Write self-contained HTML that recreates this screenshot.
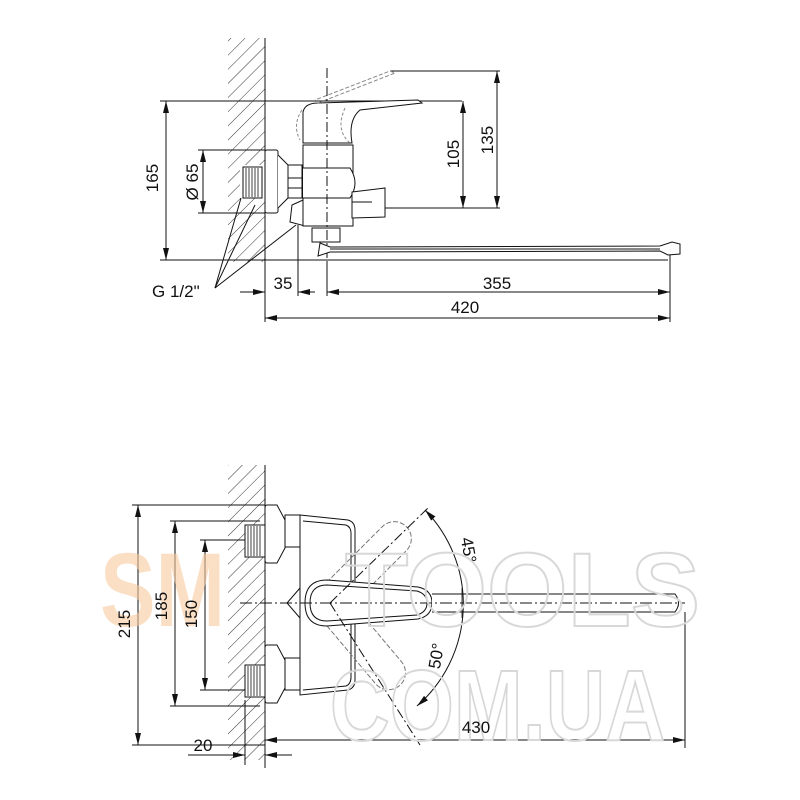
<!DOCTYPE html>
<html><head><meta charset="utf-8"><style>body{margin:0;background:#fff}svg{display:block}</style></head>
<body>
<svg width="800" height="800" viewBox="0 0 800 800" xmlns="http://www.w3.org/2000/svg" font-family="Liberation Sans, sans-serif">
<defs>
<pattern id="h" patternUnits="userSpaceOnUse" width="10" height="10" patternTransform="rotate(45)">
<line x1="0" y1="0" x2="0" y2="10" stroke="#333" stroke-width="1"/>
</pattern>
<marker id="a" markerWidth="12" markerHeight="6" refX="12" refY="3" orient="auto-start-reverse" markerUnits="userSpaceOnUse">
<path d="M0,0 L12,3 L0,6 z" fill="#111"/></marker>
</defs>
<g stroke="#111" fill="none" stroke-width="1">
<!-- TOP -->
<rect x="228" y="38" width="37" height="224" fill="url(#h)" stroke="none"/>
<rect x="240" y="165" width="25" height="33" fill="#fff" stroke="none"/>
<line x1="265" y1="38" x2="265" y2="322"/>
<line x1="160" y1="101" x2="462" y2="101"/>
<line x1="160" y1="260" x2="668" y2="260"/>
<line x1="198" y1="150" x2="265" y2="150"/>
<line x1="198" y1="213" x2="265" y2="213"/>
<line x1="390" y1="71" x2="500" y2="71"/>
<line x1="330" y1="208" x2="500" y2="208"/>
<line x1="166" y1="101" x2="166" y2="260" marker-start="url(#a)" marker-end="url(#a)"/>
<line x1="203" y1="150" x2="203" y2="213" marker-start="url(#a)" marker-end="url(#a)"/>
<line x1="463" y1="101" x2="463" y2="208" marker-start="url(#a)" marker-end="url(#a)"/>
<line x1="497" y1="71" x2="497" y2="208" marker-start="url(#a)" marker-end="url(#a)"/>
<line x1="215" y1="288" x2="241" y2="198"/>
<line x1="215" y1="288" x2="255" y2="205"/>
<line x1="215" y1="288" x2="296" y2="225"/>
<rect x="243" y="167" width="19" height="31" fill="#fff"/>
<g stroke-width="0.8"><line x1="246" y1="168" x2="246" y2="197"/><line x1="249" y1="168" x2="249" y2="197"/><line x1="252" y1="168" x2="252" y2="197"/><line x1="255" y1="168" x2="255" y2="197"/><line x1="258" y1="168" x2="258" y2="197"/></g>
<rect x="265" y="150" width="13" height="63" rx="2" fill="#fff"/>
<path d="M278 155 L288 165 L288 198 L278 208" fill="#fff"/>
<rect x="288" y="165" width="14" height="33" fill="#fff"/>
<line x1="288" y1="178" x2="302" y2="178"/><line x1="288" y1="188" x2="302" y2="188"/>
<path d="M292 205 L303 200 L305 226 L290 222 z" fill="#fff"/>
<rect x="303" y="145" width="50" height="81" fill="#fff"/>
<path d="M303 168 L350 168 Q360 183 350 198 L303 198" fill="#fff"/>
<path d="M352 192 L385 188 L385 217 L352 218 z" fill="#fff"/>
<line x1="352" y1="202" x2="372" y2="202"/>
<rect x="312" y="228" width="28" height="14" fill="#fff"/>
<path d="M303 143 L303 112 Q305 103 318 103 L418 100 L422 103 L360 110 Q348 120 352 143 z" fill="#fff"/>
<path d="M302 110 Q292 125 300 140 M345 108 Q335 130 350 143" stroke="#888" stroke-dasharray="3,2"/>
<path d="M318 103 L395 73 L390 71 L315 100" stroke="#888" stroke-dasharray="4,2"/>
<line x1="327" y1="68" x2="327" y2="262" stroke-dasharray="10,3,2,3"/>
<path d="M320 243 L330 247 L660 246 L672 242 L680 244 L680 254 L668 255 L660 251 L330 252 L318 256 z" fill="#fff"/>
<line x1="330" y1="249" x2="660" y2="249"/>
<line x1="670" y1="255" x2="670" y2="322"/>
<line x1="298" y1="225" x2="298" y2="296"/>
<line x1="327" y1="262" x2="327" y2="296"/>
<line x1="240" y1="292" x2="265" y2="292" marker-end="url(#a)"/>
<line x1="298" y1="292" x2="315" y2="292" marker-start="url(#a)"/>
<line x1="327" y1="292" x2="670" y2="292" marker-start="url(#a)" marker-end="url(#a)"/>
<line x1="265" y1="318" x2="670" y2="318" marker-start="url(#a)" marker-end="url(#a)"/>

<!-- BOTTOM -->
<rect x="228" y="465" width="37" height="295" fill="url(#h)" stroke="none"/>
<line x1="265" y1="465" x2="265" y2="768"/>
<line x1="132" y1="505" x2="265" y2="505"/>
<line x1="132" y1="745" x2="265" y2="745"/>
<line x1="170" y1="521" x2="260" y2="521"/>
<line x1="170" y1="706" x2="260" y2="706"/>
<line x1="200" y1="540" x2="245" y2="540"/>
<line x1="200" y1="690" x2="245" y2="690"/>
<line x1="138" y1="505" x2="138" y2="745" marker-start="url(#a)" marker-end="url(#a)"/>
<line x1="175" y1="521" x2="175" y2="706" marker-start="url(#a)" marker-end="url(#a)"/>
<line x1="205" y1="540" x2="205" y2="690" marker-start="url(#a)" marker-end="url(#a)"/>
<rect x="245" y="525" width="20" height="32" fill="#fff"/>
<rect x="245" y="665" width="20" height="32" fill="#fff"/>
<g stroke-width="0.8">
<line x1="248" y1="526" x2="248" y2="556"/><line x1="251" y1="526" x2="251" y2="556"/><line x1="254" y1="526" x2="254" y2="556"/><line x1="257" y1="526" x2="257" y2="556"/><line x1="260" y1="526" x2="260" y2="556"/>
<line x1="248" y1="666" x2="248" y2="696"/><line x1="251" y1="666" x2="251" y2="696"/><line x1="254" y1="666" x2="254" y2="696"/><line x1="257" y1="666" x2="257" y2="696"/><line x1="260" y1="666" x2="260" y2="696"/>
</g>
<path d="M267 505 L277 505 L285 520 L285 548 L277 563 L267 563 Q265 563 265 560 L265 508 Q265 505 267 505z" fill="#fff"/>
<rect x="285" y="515" width="15" height="32" fill="#fff"/>
<path d="M267 645 L277 645 L285 660 L285 688 L277 703 L267 703 Q265 703 265 700 L265 648 Q265 645 267 645z" fill="#fff"/>
<rect x="285" y="658" width="15" height="32" fill="#fff"/>
<path d="M300 515 L348 520 Q355 522 355 530 L355 680 Q355 688 348 690 L300 695 z" fill="#fff"/>
<path d="M303 521 L346 525 Q351 527 351 533 L351 677 Q351 684 346 686 L303 690" />
<path d="M300 588 L287 603 L300 618"/>
<g stroke="#777" stroke-dasharray="5,2">
<rect x="318" y="586" width="120" height="34" rx="17" transform="rotate(-45 330 603)"/>
<rect x="318" y="586" width="120" height="34" rx="17" transform="rotate(50 330 603)"/>
</g>
<path d="M327 580 L418 587 Q432 590 432 603 Q432 616 418 619 L327 626 Q305 626 305 603 Q305 580 327 580 z" fill="#fff"/>
<path d="M327 585 L417 591 Q427 594 427 603 Q427 612 417 615 L327 621 Q310 621 310 603 Q310 585 327 585 z"/>
<path d="M432 594 L675 594 Q682 603 675 612 L432 612" fill="#fff"/>
<line x1="240" y1="603" x2="685" y2="603" stroke-dasharray="12,3,2,3"/>
<line x1="330" y1="603" x2="428" y2="508" stroke-dasharray="10,3,2,3"/>
<line x1="330" y1="603" x2="420" y2="745" stroke-dasharray="10,3,2,3"/>
<path d="M425 510 A135 135 0 0 1 417 706" marker-start="url(#a)" marker-end="url(#a)"/>
<line x1="462" y1="588" x2="462" y2="618" stroke-width="0.8"/>
<line x1="685" y1="612" x2="685" y2="748"/>
<line x1="265" y1="740" x2="685" y2="740" marker-start="url(#a)" marker-end="url(#a)"/>
<line x1="245" y1="700" x2="245" y2="765"/>
<line x1="188" y1="755" x2="245" y2="755" marker-end="url(#a)"/>
<line x1="292" y1="755" x2="265" y2="755" marker-end="url(#a)"/>
</g>
<!-- watermark -->
<g font-weight="bold" font-size="105">
<text x="100" y="626" fill="#f6c99c" fill-opacity="0.6" textLength="125" lengthAdjust="spacingAndGlyphs">SM</text>
<text x="345" y="626" fill="none" stroke="#d8d8d8" stroke-width="2" textLength="355" lengthAdjust="spacingAndGlyphs">TOOLS</text>
<text x="330" y="740" fill="none" stroke="#d8d8d8" stroke-width="2" font-size="100" textLength="335" lengthAdjust="spacingAndGlyphs">COM.UA</text>
</g>
<g fill="#111" font-size="17">
<text x="158" y="178" transform="rotate(-90 158 178)" text-anchor="middle">165</text>
<text x="198" y="182" transform="rotate(-90 198 182)" text-anchor="middle">Ø 65</text>
<text x="459" y="154" transform="rotate(-90 459 154)" text-anchor="middle">105</text>
<text x="493" y="140" transform="rotate(-90 493 140)" text-anchor="middle">135</text>
<text x="152" y="297">G 1/2"</text>
<text x="283" y="289" text-anchor="middle">35</text>
<text x="497" y="289" text-anchor="middle">355</text>
<text x="465" y="313" text-anchor="middle">420</text>
<text x="130" y="624" transform="rotate(-90 130 624)" text-anchor="middle">215</text>
<text x="167" y="606" transform="rotate(-90 167 606)" text-anchor="middle">185</text>
<text x="197" y="614" transform="rotate(-90 197 614)" text-anchor="middle">150</text>
<text x="463" y="551" transform="rotate(80 463 551)" text-anchor="middle">45°</text>
<text x="442" y="657" transform="rotate(-80 442 657)" text-anchor="middle">50°</text>
<text x="476" y="733" text-anchor="middle">430</text>
<text x="203" y="751" text-anchor="middle">20</text>
</g>
</svg>
</body></html>
